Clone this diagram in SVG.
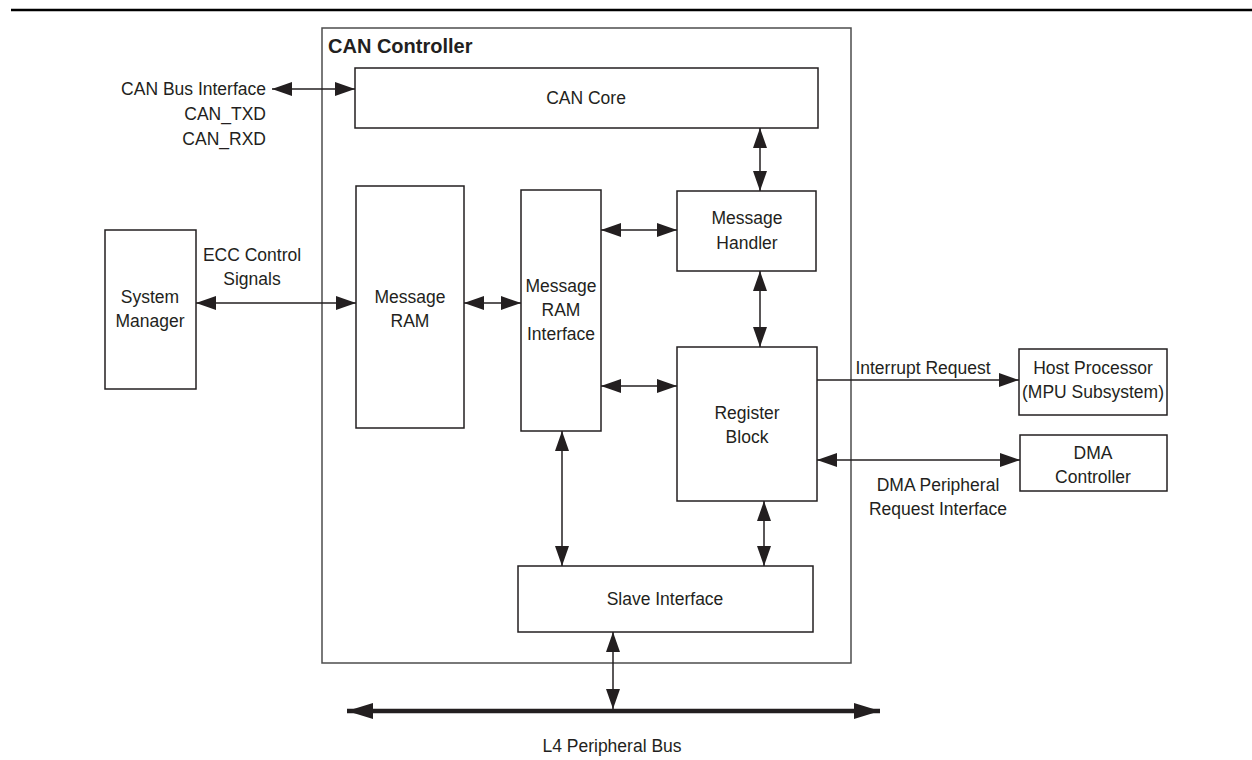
<svg xmlns="http://www.w3.org/2000/svg" width="1252" height="760" viewBox="0 0 1252 760">
<style>
.box{fill:#fff;stroke:#231f20;stroke-width:1.5}
.frame{fill:none;stroke:#4d4d4d;stroke-width:1.5}
.t{font-family:"Liberation Sans",Arial,sans-serif;font-size:17.5px;fill:#231f20;text-anchor:middle}
.r{text-anchor:end}
.b{font-weight:bold;font-size:20px;text-anchor:start}
.c{stroke:#231f20;stroke-width:1.5;fill:none;marker-start:url(#a);marker-end:url(#a)}
.c1{stroke:#231f20;stroke-width:1.5;fill:none;marker-end:url(#a)}
</style>
<defs>
<marker id="a" viewBox="0 0 20 14" refX="20" refY="7" markerWidth="20" markerHeight="14" markerUnits="userSpaceOnUse" orient="auto-start-reverse">
<path d="M0,0 L20,7 L0,14 Z" fill="#231f20"/>
</marker>
<marker id="big" viewBox="0 0 26 16" refX="26" refY="8" markerWidth="26" markerHeight="16" markerUnits="userSpaceOnUse" orient="auto-start-reverse">
<path d="M0,0 L26,8 L0,16 Z" fill="#231f20"/>
</marker>
</defs>
<rect width="1252" height="760" fill="#fff"/>
<line x1="11" y1="10" x2="1252" y2="10" stroke="#000" stroke-width="2.5"/>

<g id="can-controller">
<rect class="frame" x="322" y="28" width="529" height="635"/>
<text class="t b" x="328" y="53">CAN Controller</text>
</g>
<g id="can-core">
<rect class="box" x="355" y="68" width="463" height="60"/>
<text class="t" x="586" y="104">CAN Core</text>
</g>
<g id="system-manager">
<rect class="box" x="105" y="230" width="91" height="159"/>
<text class="t" x="150" y="303">System</text>
<text class="t" x="150" y="327">Manager</text>
</g>
<g id="message-ram">
<rect class="box" x="356" y="186" width="108" height="242"/>
<text class="t" x="410" y="303">Message</text>
<text class="t" x="410" y="327">RAM</text>
</g>
<g id="message-ram-interface">
<rect class="box" x="521" y="190" width="80" height="241"/>
<text class="t" x="561" y="292">Message</text>
<text class="t" x="561" y="316">RAM</text>
<text class="t" x="561" y="340">Interface</text>
</g>
<g id="message-handler">
<rect class="box" x="677" y="191" width="139" height="80"/>
<text class="t" x="747" y="224">Message</text>
<text class="t" x="747" y="249">Handler</text>
</g>
<g id="register-block">
<rect class="box" x="677" y="347" width="140" height="154"/>
<text class="t" x="747" y="419">Register</text>
<text class="t" x="747" y="443">Block</text>
</g>
<g id="slave-interface">
<rect class="box" x="518" y="566" width="295" height="66"/>
<text class="t" x="665" y="605">Slave Interface</text>
</g>
<g id="host-processor">
<rect class="box" x="1019" y="349" width="148" height="66"/>
<text class="t" x="1093" y="374">Host Processor</text>
<text class="t" x="1093" y="398">(MPU Subsystem)</text>
</g>
<g id="dma-controller">
<rect class="box" x="1020" y="435" width="147" height="56"/>
<text class="t" x="1093" y="459">DMA</text>
<text class="t" x="1093" y="483">Controller</text>
</g>

<g id="connectors">
<line class="c" x1="272" y1="89" x2="355" y2="89"/>
<line class="c" x1="196" y1="303" x2="356" y2="303"/>
<line class="c" x1="464" y1="303" x2="521" y2="303"/>
<line class="c" x1="601" y1="230" x2="677" y2="230"/>
<line class="c" x1="601" y1="386" x2="677" y2="386"/>
<line class="c" x1="760" y1="128" x2="760" y2="191"/>
<line class="c" x1="760" y1="271" x2="760" y2="347"/>
<line class="c1" x1="817" y1="380" x2="1019" y2="380"/>
<line class="c" x1="817" y1="460" x2="1020" y2="460"/>
<line class="c" x1="764" y1="501" x2="764" y2="566"/>
<line class="c" x1="562" y1="431" x2="562" y2="566"/>
<line class="c" x1="613" y1="632" x2="613" y2="709"/>
<line x1="347" y1="711" x2="880" y2="711" stroke="#231f20" stroke-width="4.5" marker-start="url(#big)" marker-end="url(#big)"/>
</g>

<g id="labels">
<text class="t r" x="266" y="95">CAN Bus Interface</text>
<text class="t r" x="266" y="120">CAN_TXD</text>
<text class="t r" x="266" y="145">CAN_RXD</text>
<text class="t" x="252" y="261">ECC Control</text>
<text class="t" x="252" y="285">Signals</text>
<text class="t" x="923" y="374">Interrupt Request</text>
<text class="t" x="938" y="491">DMA Peripheral</text>
<text class="t" x="938" y="515">Request Interface</text>
<text class="t" x="612" y="752">L4 Peripheral Bus</text>
</g>
</svg>
